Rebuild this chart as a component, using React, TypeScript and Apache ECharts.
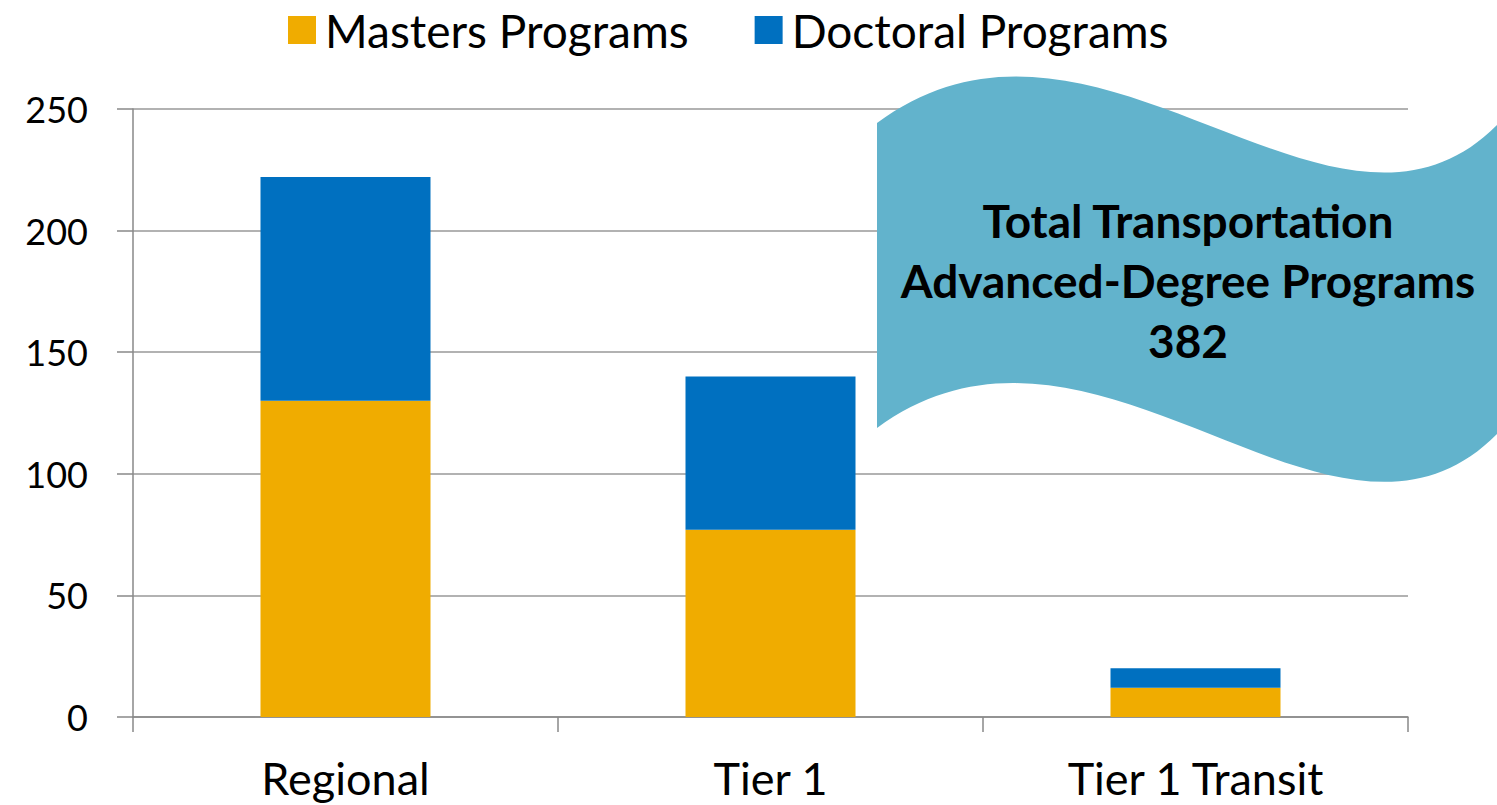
import React, { useEffect, useRef } from "react";
import * as echarts from "echarts";

const categories = ["Regional", "Tier 1", "Tier 1 Transit"];
const mastersValues = [130, 77, 12];
const doctoralValues = [92, 63, 8];
const seriesNames = ["Masters Programs", "Doctoral Programs"];
const bannerLines = ["Total Transportation", "Advanced-Degree Programs", "382"];

const FONT = "Lato, 'Open Sans', sans-serif";

const wavePath =
  "M877,123 C1096,-40 1333,290 1497,125 L1497,434 C1333,600 1096,268 877,428 Z";

export default function App() {
  const ref = useRef<HTMLDivElement>(null);
  useEffect(() => {
    if (!ref.current) return;
    try {
      echarts.graphic.registerShape("wave", echarts.graphic.extendPath(wavePath, {}) as any);
    } catch (e) {}
    const chart = echarts.init(ref.current, undefined, { renderer: "svg" });
    chart.setOption({
      animation: false,
      backgroundColor: "#ffffff",
      textStyle: { fontFamily: FONT },
      legend: {
        top: 2,
        left: 283,
        itemWidth: 28,
        itemHeight: 28,
        itemGap: 66,
        icon: "rect",
        textStyle: { fontSize: 46, color: "#000", fontFamily: FONT, padding: [0, 0, 0, 4] },
        data: seriesNames,
      },
      grid: { left: 133, right: 89, top: 109, bottom: 88, containLabel: false },
      xAxis: {
        type: "category",
        data: categories,
        axisLine: { lineStyle: { color: "#888", width: 1.5 } },
        axisTick: { show: true, length: 15, lineStyle: { color: "#888", width: 1.5 } },
        axisLabel: { color: "#000", fontSize: 45, margin: 38, fontFamily: FONT },
      },
      yAxis: {
        type: "value",
        min: 0,
        max: 250,
        interval: 50,
        axisLine: { show: true, lineStyle: { color: "#888", width: 1.5 } },
        axisTick: { show: true, length: 16, lineStyle: { color: "#888", width: 1.5 } },
        splitLine: { lineStyle: { color: "#999", width: 1.5 } },
        axisLabel: { color: "#000", fontSize: 36, margin: 45, fontFamily: FONT },
      },
      series: [
        {
          name: seriesNames[0],
          type: "bar",
          stack: "total",
          barWidth: "40%",
          itemStyle: { color: "#F0AC00" },
          data: mastersValues,
        },
        {
          name: seriesNames[1],
          type: "bar",
          stack: "total",
          barWidth: "40%",
          itemStyle: { color: "#0070C0" },
          data: doctoralValues,
        },
      ],
      graphic: [
        {
          type: "wave",
          x: 0,
          y: 0,
          z: 100,
          style: { fill: "#62B3CC" },
        },
        ...bannerLines.map((t, i) => ({
          type: "text",
          z: 101,
          x: 1188,
          y: 220 + i * 60,
          style: {
            text: t,
            fill: "#000",
            font: `bold 46px ${FONT}`,
            textAlign: "center",
            textVerticalAlign: "middle",
          },
        })),
      ],
    });
    return () => chart.dispose();
  }, []);
  return (
    <div
      ref={ref}
      style={{ position: "fixed", left: 0, top: 0, width: 1497, height: 805 }}
    />
  );
}
